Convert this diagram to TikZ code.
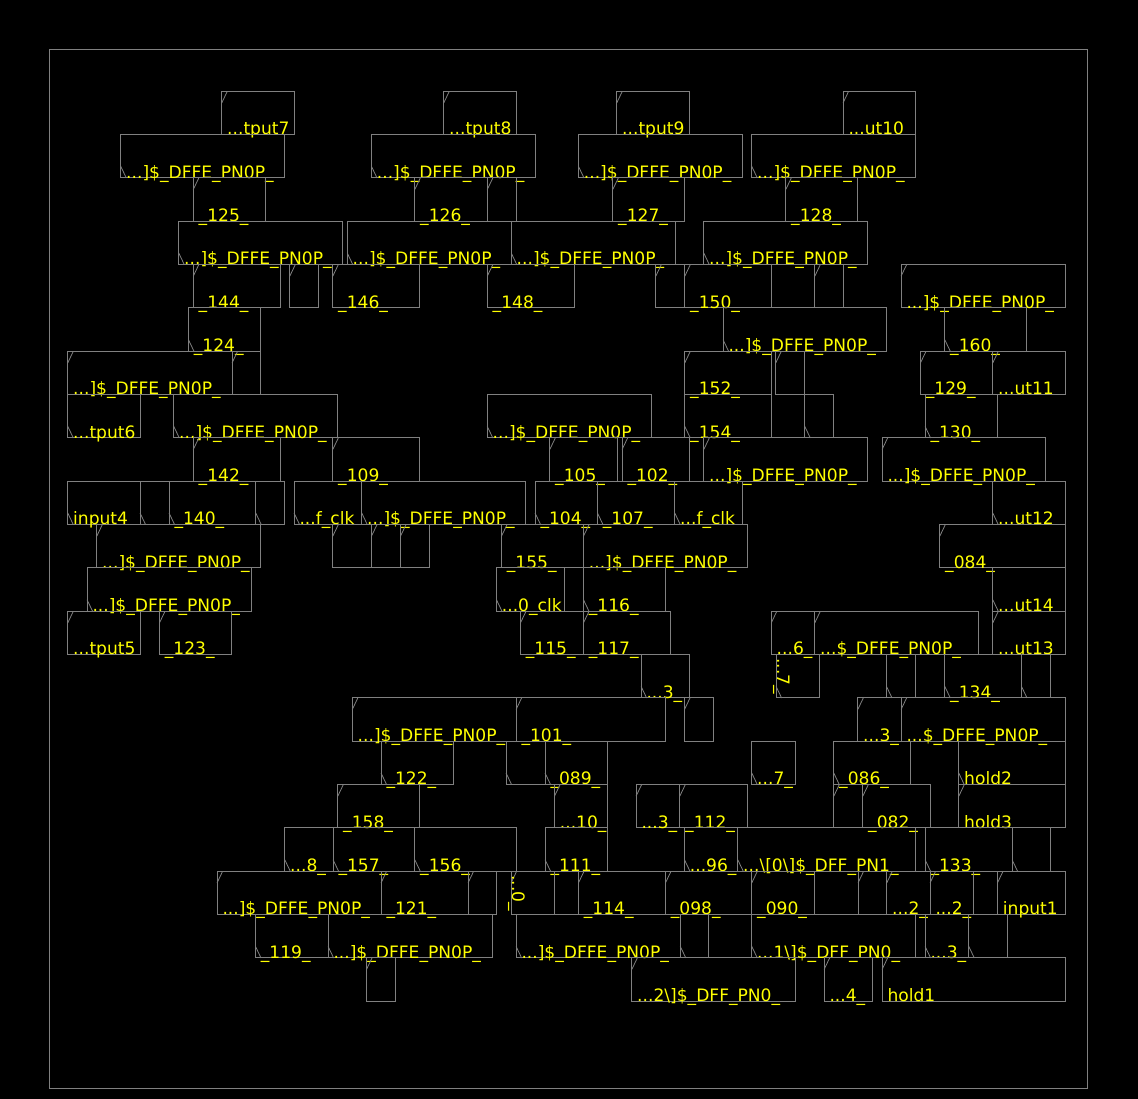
\documentclass[tikz,border=0pt]{standalone}
\usepackage{fontspec}
\setmainfont{DejaVu Sans}
\definecolor{wiregray}{RGB}{128,128,128}
\definecolor{labyellow}{RGB}{255,255,0}
\newcommand{\dts}{...}
\newcommand{\dffe}{\dts]\$\_DFFE\_PN0P\_}
\newcommand{\sdffe}{\dts\$\_DFFE\_PN0P\_}
\tikzset{cellbox/.style={draw=wiregray,line width=1pt},
  celltext/.style={text=labyellow,inner sep=0pt,anchor=base west,font=\fontsize{17.1}{20}\selectfont}}
% one placement row: #1 is the row number, list is left/right/label
\newcommand{\cellrow}[2]{%
  \foreach \xa/\xb/\lab [count=\i] in {#2}{%
    \pgfmathsetmacro{\ya}{91.3+43.333*#1}
    \pgfmathsetmacro{\yb}{\ya+43.333}
    \draw[cellbox] (\xa-.2,\ya) rectangle (\xb-.2,\yb);
    \ifodd#1
      \draw[cellbox,line width=.8pt] (\xa-.2,\yb-11.5) -- (\xa+5.3,\yb);
    \else
      \draw[cellbox,line width=.8pt] (\xa-.2,\ya+11.5) -- (\xa+5.3,\ya);
    \fi
    \ifx\lab\empty\else
      \node[celltext] (r#1c\i) at (\xa+5,\yb+.3) {\lab};
    \fi
  }}
\begin{document}
\begin{tikzpicture}[x=1pt,y=-1pt]
\useasboundingbox (0,0) rectangle (1138,1099);
\fill[black] (0,0) rectangle (1138,1099);
\draw[cellbox] (49.3,49.7) rectangle (1087.3,1088);
\cellrow{0}{222/294.3/\dts tput7,444/516.3/\dts tput8,617/689.3/\dts tput9,843.3/915.7/\dts ut10}
\cellrow{1}{121/285/\dffe,371.7/535.7/\dffe,578.7/742.7/\dffe,752/916/\dffe}
\cellrow{2}{193.5/266/\_125\_,415/487.5/\_126\_,487.5/516.5/,613/685/\_127\_,786/858/\_128\_}
\cellrow{3}{179/343/\dffe,347.5/511.5/\dffe,511.5/675.3/\dffe,704/868/\dffe}
\cellrow{4}{193.5/280.5/\_144\_,290/319/,333/420/\_146\_,487.5/574.5/\_148\_,656/685/,685/771.7/\_150\_,815/843.3/,901.3/1065.3/\dffe}
\cellrow{5}{188.7/261/\_124\_,723.3/887/\dffe,945/1026.7/\_160\_}
\cellrow{6}{68/232.3/\dffe,232.3/261/,685/771.7/\_152\_,776/805/,920.7/993/\_129\_,993/1065.3/\dts ut11}
\cellrow{7}{68/140.3/\dts tput6,174/338/\dffe,487.5/651.3/\dffe,685/771.7/\_154\_,805/834/,925.3/998/\_130\_}
\cellrow{8}{193.5/280.5/\_142\_,333/420/\_109\_,550/617.7/\_105\_,622.3/689.7/\_102\_,704/868/\dffe,882.3/1046/\dffe}
\cellrow{9}{68/140.3/input4,140.3/169.3/,169.3/256/\_140\_,256/285/,294.3/362/\dts f\_clk,362/525.7/\dffe,535.3/597.7/\_104\_,597.7/675/\_107\_,675/742.3/\dts f\_clk,993/1065.3/\dts ut12}
\cellrow{10}{97/261/\dffe,333/371.7/,371.7/400.7/,400.7/429.7/,501.7/583.7/\_155\_,583.7/747.7/\dffe,940/1065.3/\_084\_}
\cellrow{11}{87.3/251.3/\dffe,496.7/564.3/\dts 0\_clk,583.7/665.7/\_116\_,993/1065.3/\dts ut14}
\cellrow{12}{68/140.3/\dts tput5,159.7/232/\_123\_,520.7/583.7/\_115\_,583.7/670.3/\_117\_,771.5/815/\dts 6\_,815/979/\sdffe,993/1065.3/\dts ut13}
\cellrow{13}{641.3/689.7/\dts 3\_,776.3/819.7/,886.7/916/,945/1021.7/\_134\_,1021.7/1050.7/}
\cellrow{14}{352.5/516.3/\dffe,516.3/665.3/\_101\_,684.7/713.7/,858/901.3/\dts 3\_,901.3/1065.3/\sdffe}
\cellrow{15}{381.3/453.5/\_122\_,506.3/545.3/,545.3/607.7/\_089\_,752/795.5/\dts 7\_,834/911/\_086\_,959/1065.3/hold2}
\cellrow{16}{338/420/\_158\_,554.7/607.7/\dts 10\_,636.3/680/\dts 3\_,680/747.5/\_112\_,834/863/,863/930.5/\_082\_,959/1065.3/hold3}
\cellrow{17}{285/333.3/\dts 8\_,333.3/415/\_157\_,415/516.3/\_156\_,545.3/607.7/\_111\_,684.7/738/\dts 96\_,738/916/\dts\textbackslash[0\textbackslash]\$\_DFF\_PN1\_,925.3/1012.3/\_133\_,1012.3/1050.7/}
\cellrow{18}{217.3/381.3/\dffe,381.3/468.3/\_121\_,468.3/497/,511.3/554.7/,578.7/665.7/\_114\_,665.7/752/\_098\_,752/814.7/\_090\_,858.3/887/,887/930.3/\dts 2\_,930.3/973.7/\dts 2\_,997.7/1065.3/input1}
\cellrow{19}{255.7/328.3/\_119\_,328.3/492.3/\dffe,516.3/680.5/\dffe,680.5/709/,752/916/\dts 1\textbackslash]\$\_DFF\_PN0\_,925.3/969/\dts 3\_,969/1007.3/}
\cellrow{20}{366.7/395.7/,632/795.7/\dts 2\textbackslash]\$\_DFF\_PN0\_,824.3/872.3/\dts 4\_,882.3/1065.3/hold1}
\node[celltext,rotate=-90] (rot7) at (777,658) {\dts 7\_};
\node[celltext,rotate=-90] (rot0) at (512,875) {\dts 0\_};
\end{tikzpicture}
\end{document}
